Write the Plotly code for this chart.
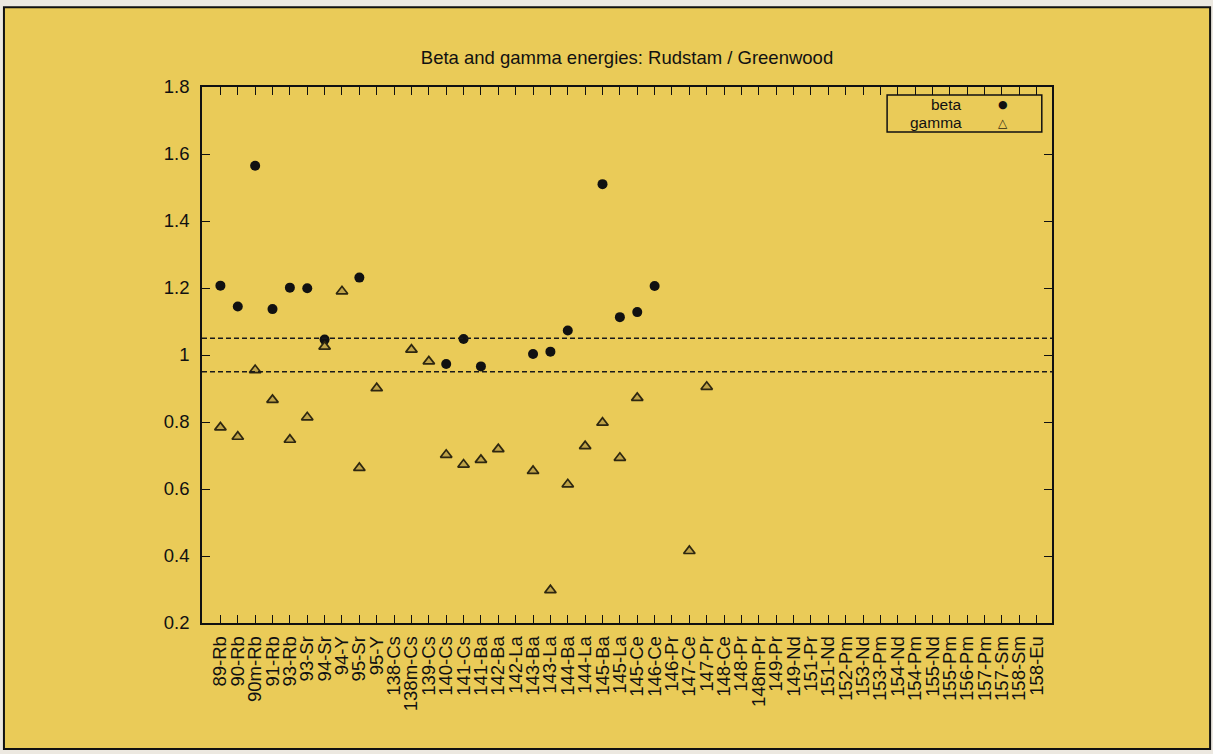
import plotly.graph_objects as go

categories = ["89-Rb", "90-Rb", "90m-Rb", "91-Rb", "93-Rb", "93-Sr", "94-Sr", "94-Y",
              "95-Sr", "95-Y", "138-Cs", "138m-Cs", "139-Cs", "140-Cs", "141-Cs", "141-Ba",
              "142-Ba", "142-La", "143-Ba", "143-La", "144-Ba", "144-La", "145-Ba", "145-La",
              "145-Ce", "146-Ce", "146-Pr", "147-Ce", "147-Pr", "148-Ce", "148-Pr", "148m-Pr",
              "149-Pr", "149-Nd", "151-Pr", "151-Nd", "152-Pm", "153-Nd", "153-Pm", "154-Nd",
              "154-Pm", "155-Nd", "155-Pm", "156-Pm", "157-Pm", "157-Sm", "158-Sm", "158-Eu"]

beta = [1.207, 1.145, 1.565, 1.137, 1.201, 1.199, 1.046, None,
        1.231, None, None, None, None, 0.973, 1.048, 0.966,
        None, None, 1.003, 1.010, 1.073, None, 1.510, 1.113,
        1.128, 1.206, None, None, None, None, None, None,
        None, None, None, None, None, None, None, None,
        None, None, None, None, None, None, None, None]

gamma = [0.784, 0.756, 0.955, 0.866, 0.747, 0.814, 1.025, 1.190,
         0.663, 0.901, None, 1.016, 0.981, 0.702, 0.673, 0.687,
         0.719, None, 0.654, 0.298, 0.614, 0.728, 0.798, 0.693,
         0.872, None, None, 0.415, 0.905, None, None, None,
         None, None, None, None, None, None, None, None,
         None, None, None, None, None, None, None, None]

y_tick_vals = [0.2, 0.4, 0.6, 0.8, 1.0, 1.2, 1.4, 1.6, 1.8]
y_tick_text = ["0.2", "0.4", "0.6", "0.8", "1", "1.2", "1.4", "1.6", "1.8"]
ref_levels = [0.95, 1.05]

BG = "#eacb58"
INK = "#111111"
FONT = "Liberation Sans, Arial, Helvetica, sans-serif"
FS = 18.5
LEG_FS = 15.5

fig = go.Figure()
fig.add_trace(go.Scatter(
    x=categories, y=beta, mode="markers", name="beta", showlegend=False,
    marker=dict(symbol="circle", size=10, color=INK, line=dict(width=0)),
))
fig.add_trace(go.Scatter(
    x=categories, y=gamma, mode="markers", name="gamma", showlegend=False,
    marker=dict(symbol="triangle-up", size=10, color="#bfa348",
                line=dict(width=1.7, color="#2e2710")),
))

shapes = []
# outer frame of the picture
shapes.append(dict(type="rect", xref="paper", yref="paper",
                   x0=-0.233, x1=1.186, y0=-0.235, y1=1.149,
                   fillcolor=BG, line=dict(color=INK, width=2), layer="below"))
for lv in ref_levels:
    shapes.append(dict(type="line", xref="paper", yref="y", x0=0, x1=1, y0=lv, y1=lv,
                       line=dict(color="#1a1a1a", width=1.5, dash="5px,3px")))
# legend box
shapes.append(dict(type="rect", xref="paper", yref="paper",
                   x0=0.806, x1=0.988, y0=0.916, y1=0.985,
                   fillcolor=BG, line=dict(color=INK, width=1.5)))

annotations = [
    dict(text="beta", xref="paper", yref="paper", x=0.897, y=0.967,
         xanchor="right", yanchor="middle", showarrow=False,
         font=dict(family=FONT, size=LEG_FS, color=INK)),
    dict(text="gamma", xref="paper", yref="paper", x=0.897, y=0.933,
         xanchor="right", yanchor="middle", showarrow=False,
         font=dict(family=FONT, size=LEG_FS, color=INK)),
    dict(text="\u25CF", xref="paper", yref="paper", x=0.942, y=0.967,
         xanchor="center", yanchor="middle", showarrow=False,
         font=dict(family="DejaVu Sans", size=11, color=INK)),
    dict(text="\u25B3", xref="paper", yref="paper", x=0.942, y=0.933,
         xanchor="center", yanchor="middle", showarrow=False,
         font=dict(family="DejaVu Sans", size=12, color="#2e2710")),
]

fig.update_layout(
    width=1213, height=754,
    margin=dict(l=202, r=161, t=87, b=131, pad=0),
    paper_bgcolor="#ece8e0",
    plot_bgcolor="rgba(0,0,0,0)",
    font=dict(family=FONT, size=FS, color=INK),
    title=dict(text="Beta and gamma energies: Rudstam / Greenwood",
               x=(202 + 1052) / 2 / 1213, xanchor="center",
               y=1 - 58 / 754, yanchor="middle", yref="container",
               font=dict(family=FONT, size=FS, color=INK)),
    shapes=shapes,
    annotations=annotations,
    showlegend=False,
)

fig.update_xaxes(
    type="category", categoryorder="array", categoryarray=categories,
    tickmode="linear", tick0=0, dtick=1,
    range=[-1.06, 47.88], showgrid=False, zeroline=False,
    showline=True, linecolor=INK, linewidth=1.5, mirror="ticks",
    ticks="inside", ticklen=8, tickwidth=1.2, tickcolor=INK,
    tickangle=-90, tickfont=dict(family=FONT, size=FS, color=INK),
    ticklabelstandoff=4,
)
fig.update_yaxes(
    range=[0.2, 1.8], tickvals=y_tick_vals, ticktext=y_tick_text,
    showgrid=False, zeroline=False,
    showline=True, linecolor=INK, linewidth=1.5, mirror="ticks",
    ticks="inside", ticklen=8, tickwidth=1.2, tickcolor=INK,
    tickfont=dict(family=FONT, size=FS, color=INK),
    ticklabelstandoff=7,
)

fig.write_html("out.html", config={"displayModeBar": False},
               post_script="document.body.style.margin='0';")
